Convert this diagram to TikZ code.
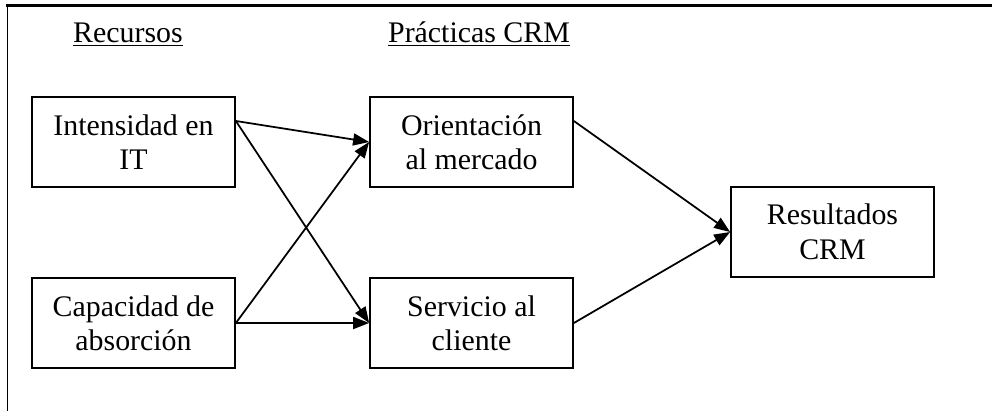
\documentclass[tikz,border=0pt]{standalone}
\usepackage{fontspec}
\setmainfont{Liberation Serif}
\usetikzlibrary{arrows.meta,calc}

\tikzset{
  caja/.style={draw,line width=1pt,minimum width=4.06cm,minimum height=1.8cm,
    align=center,inner sep=0pt},
  flecha/.style={line width=1pt,-{Triangle[length=3.2mm,width=2.4mm]}},
  titulo/.style={anchor=base}
}

\begin{document}
\begin{tikzpicture}[font=\fontsize{17}{19.6}\selectfont]
      \useasboundingbox (0,0) rectangle (19.84,-8.2);
      % marco
      \draw[line width=0.9pt] (0.15,-8.3) -- (0.15,-0.11);
      \draw[line width=1.3pt] (0.12,-0.11) -- (20,-0.11);
      % titulos
      \node[titulo] (rec) at (2.56,-0.86) {\underline{Recursos}};
      \node[titulo] (pra) at (9.58,-0.86) {\underline{Prácticas CRM}};
      % cajas
      \node[caja] (int) at (2.67,-2.84) {Intensidad en\\IT};
      \node[caja] (cap) at (2.67,-6.46) {Capacidad de\\absorción};
      \node[caja] (ori) at (9.43,-2.84) {Orientación\\al mercado};
      \node[caja] (ser) at (9.43,-6.46) {Servicio al\\cliente};
      \node[caja] (res) at (16.65,-4.64) {Resultados\\CRM};
      % flechas
      \draw[flecha] ($(int.east)+(0,0.42)$) -- (ori.west);
      \draw[flecha] ($(int.east)+(0,0.42)$) -- (ser.west);
      \draw[flecha] (cap.east) -- (ori.west);
      \draw[flecha] (cap.east) -- (ser.west);
      \draw[flecha] ($(ori.east)+(0,0.42)$) -- (res.west);
      \draw[flecha] (ser.east) -- (res.west);
     \end{tikzpicture}
\end{document}
